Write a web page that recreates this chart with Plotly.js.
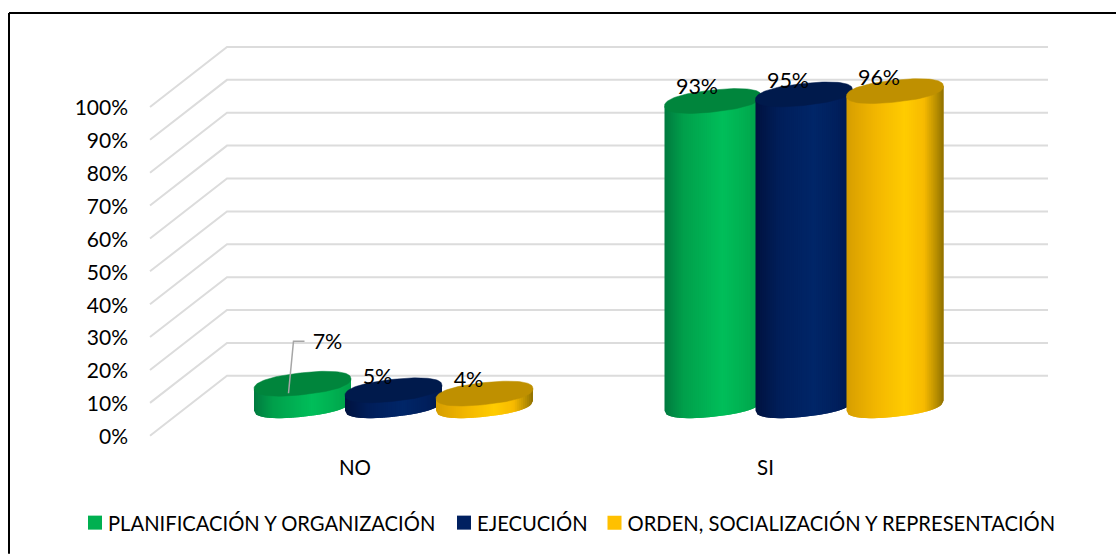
<!DOCTYPE html>
<html>
<head>
<meta charset="utf-8">
<script src="https://cdn.plot.ly/plotly-3.0.1.min.js"></script>
<style>html,body{margin:0;padding:0;background:#fff;overflow:hidden}</style>
</head>
<body>
<div id="chart" style="width:1116px;height:554px"></div>
<script>
// ---- data ----
const categories = ['NO', 'SI'];
const planificacion = [7, 93];
const ejecucion = [5, 95];
const orden = [4, 96];
const seriesNames = ['PLANIFICACIÓN Y ORGANIZACIÓN', 'EJECUCIÓN', 'ORDEN, SOCIALIZACIÓN Y REPRESENTACIÓN'];
const yTicks = [0, 10, 20, 30, 40, 50, 60, 70, 80, 90, 100];

// ---- styling ----
const legendColors = ['#00B050', '#002060', '#FFC000'];
const topColors = ['#00853C', '#001A4C', '#BF9000'];
const bodyStops = [
  [[-1,'#007A3F'],[-0.6,'#00A04B'],[0.2,'#00BE5A'],[0.6,'#00B152'],[1,'#00A049']],
  [[-1,'#00133F'],[-0.5,'#001E5A'],[0.2,'#002668'],[0.7,'#001F5C'],[1,'#00194C']],
  [[-1,'#D69E00'],[-0.4,'#F2B600'],[0.2,'#FFCC00'],[0.6,'#F7BA00'],[0.85,'#B98F00'],[1,'#8F7000']]
];
const FONT = 'Lato, Carlito, Calibri, sans-serif';
const FS_LEGEND = 20.2, FS_TICK = 21, FS_CAT = 20.5, FS_LABEL = 21.5;

// ---- scales of the pseudo-3D frame (px per data unit) ----
const PXX = 410.5, PXY = 3.29;
const L = 140, R = 1060, T = 40, B = 439.29;
const X0 = 355;                     // pixel of category 0
const dx = p => p / PXX, dy = p => p / PXY;
const depthX = dx(77), depthY = dy(60);
const pitch = dx(91), a = dx(48.5), tilt = dy(5), b = dy(11);
const P = 2.3;                      // slightly squarer than an ellipse
const xRange = [(L - X0) / PXX, (R - X0) / PXX];
const yRange = [-1, (436 - T) / PXY];
const backRight = dx(1048 - X0);
const frontLeft = dx(150 - X0);

function hex(c){return [1,3,5].map(i=>parseInt(c.substr(i,2),16));}
function shade(stops,u){
  for(let i=1;i<stops.length;i++){
    if(u<=stops[i][0]){
      const [u0,c0]=stops[i-1],[u1,c1]=stops[i];
      const t=(u-u0)/(u1-u0),A=hex(c0),B2=hex(c1);
      return 'rgb('+A.map((v,k)=>Math.round(v+(B2[k]-v)*t)).join(',')+')';
    }
  }
  return stops[stops.length-1][1];
}
const spow = (v,e) => Math.sign(v) * Math.pow(Math.abs(v), e);

const traces = [];

// gridlines: front edge -> back wall -> right end
const gx = [], gy = [];
yTicks.forEach(t => {
  gx.push(frontLeft, frontLeft + depthX, backRight, null);
  gy.push(t, t + depthY, t + depthY, null);
});
traces.push({x:gx,y:gy,mode:'lines',line:{color:'#DCDCDC',width:2},hoverinfo:'skip',showlegend:false});

const allSeries = [planificacion, ejecucion, orden];
const N = 48;
const labelTraces = [];
const centerOf = (c, s) => c + (s - 1) * pitch + depthX / 2;
const base = depthY / 2;
const capY = v => base + v - dy(1);
allSeries.forEach((vals, s) => {
  const low = u => base + tilt * u - b * Math.pow(Math.max(0, 1 - Math.pow(Math.abs(u), P)), 1 / P);
  // each strip overlaps the next one, painted left to right, so no seams show
  for (let i = 0; i < N; i++) {
    const u0 = -1 + 2 * i / N, u1 = -1 + 2 * (i + 1) / N, u2 = Math.min(1, u1 + 2 / N);
    const xs = [], ys = [];
    vals.forEach((v, c) => {
      const cx = centerOf(c, s), top = capY(v);
      xs.push(cx + a * u0, cx + a * u1, cx + a * u2, cx + a * u2, cx + a * u0, cx + a * u0, null);
      ys.push(low(u0), low(u1), low(u2), top + tilt * u2, top + tilt * u0, low(u0), null);
    });
    const col = shade(bodyStops[s], (u0 + u1) / 2);
    traces.push({x:xs,y:ys,mode:'lines',fill:'toself',fillcolor:col,line:{width:0,color:col},hoverinfo:'skip',showlegend:false});
  }
  // top caps
  const ex = [], ey = [];
  vals.forEach((v, c) => {
    for (let k = 0; k <= 96; k++) {
      const th = 2 * Math.PI * k / 96, u = spow(Math.cos(th), 2 / P), w = spow(Math.sin(th), 2 / P);
      ex.push(centerOf(c, s) + a * u);
      ey.push(capY(v) + tilt * u + b * w);
    }
    ex.push(null); ey.push(null);
  });
  traces.push({x:ex,y:ey,mode:'lines',fill:'toself',fillcolor:topColors[s],line:{color:topColors[s],width:0.5},hoverinfo:'skip',showlegend:false});

  // data labels sit up-left of each cap; the small green one uses a leader line
  const lx = [], ly = [];
  vals.forEach((v, c) => {
    const leader = s === 0 && c === 0;
    lx.push(centerOf(c, s) + dx(leader ? 25 : -16));
    ly.push(capY(v) + dy(leader ? 40.5 : 12));
  });
  labelTraces.push({x:lx,y:ly,mode:'text',text:vals.map(v=>v+'%'),textposition:'middle center',
    textfont:{family:FONT,size:FS_LABEL,color:'#000'},cliponaxis:false,hoverinfo:'skip',showlegend:false});
});

// leader line of the first label
{
  const cx = centerOf(0, 0), top = depthY / 2 + planificacion[0];
  traces.push({x:[cx+dx(-14),cx+dx(-9),cx+dx(2)],y:[top-dy(10.5),top+dy(41.5),top+dy(41.5)],mode:'lines',
    line:{color:'#A6A6A6',width:1.5},hoverinfo:'skip',showlegend:false});
}
labelTraces.forEach(t=>traces.push(t));

// legend entries
const legendIds = ['legend','legend2','legend3'];
seriesNames.forEach((n,i)=>{
  traces.push({x:[null],y:[null],type:'scatter',mode:'markers',name:n,legend:legendIds[i],showlegend:true,
    marker:{symbol:'square',size:14,color:legendColors[i]}});
});
const legendBase = {xref:'container',yref:'container',y:(554-523)/554,xanchor:'left',yanchor:'middle',
  bgcolor:'rgba(0,0,0,0)',font:{family:FONT,size:FS_LEGEND,color:'#000'},indentation:-7,itemclick:false,itemdoubleclick:false,orientation:'h'};
const px2paperX = p => (p - L) / (R - L), px2paperY = p => (B - p) / (B - T);

const layout = {
  width:1116,height:554,
  margin:{l:L,r:1116-R,t:T,b:554-B,pad:0},
  paper_bgcolor:'#fff',plot_bgcolor:'rgba(0,0,0,0)',
  showlegend:true,hovermode:false,
  xaxis:{range:xRange,tickmode:'array',tickvals:categories.map((_,i)=>i),ticktext:categories,showgrid:false,zeroline:false,showline:false,ticks:'',
    tickfont:{family:FONT,size:FS_CAT,color:'#000'},ticklabelstandoff:14,fixedrange:true},
  yaxis:{range:yRange,tickmode:'array',tickvals:yTicks,ticktext:yTicks.map(v=>v+'%'),showgrid:false,zeroline:false,showline:false,ticks:'',
    tickfont:{family:FONT,size:FS_TICK,color:'#000'},ticklabelstandoff:11,ticklabelshift:1,fixedrange:true},
  legend:Object.assign({},legendBase,{x:75/1116}),
  legend2:Object.assign({},legendBase,{x:444/1116}),
  legend3:Object.assign({},legendBase,{x:594.5/1116}),
  shapes:[
    {type:'line',xref:'paper',yref:'paper',x0:px2paperX(9),x1:px2paperX(1116),y0:px2paperY(13),y1:px2paperY(13),line:{color:'#000',width:2}},
    {type:'line',xref:'paper',yref:'paper',x0:px2paperX(9),x1:px2paperX(9),y0:px2paperY(13),y1:px2paperY(554),line:{color:'#000',width:2}}
  ]
};
Plotly.newPlot('chart',traces,layout,{displayModeBar:false,staticPlot:true}).then(()=>{
  // bring the legend swatches closer to their text, as in the reference
  document.querySelectorAll('.legendpoints').forEach(g=>g.setAttribute('transform','translate(7,0)'));
});
</script>
</body>
</html>
